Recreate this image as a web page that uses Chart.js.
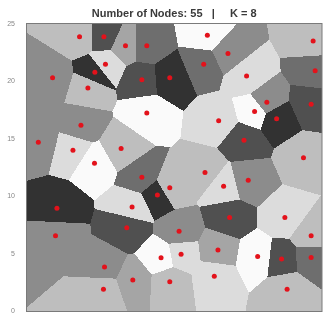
<!DOCTYPE html>
<html>
<head>
<meta charset="utf-8">
<script src="https://cdn.jsdelivr.net/npm/chart.js@4.4.1/dist/chart.umd.min.js"></script>
<style>
  html, body { margin: 0; padding: 0; background: #fff; }
  #wrap { width: 324px; height: 323px; }
</style>
</head>
<body>
<div id="wrap"><canvas id="voronoi"></canvas></div>
<script>
  // node positions (0..25 square) and the class (0..7) of each node's cell
  const nodeX = [4.46, 6.53, 8.36, 10.17, 15.31, 24.29, 6.66, 17.06, 15.0, 5.76,
    2.17, 9.75, 12.12, 18.64, 24.46, 5.17, 20.36, 24.12, 10.17, 19.32,
    16.27, 21.19, 4.58, 0.96, 18.42, 3.90, 7.99, 23.47, 5.73, 15.11,
    9.75, 18.78, 12.12, 16.69, 11.07, 2.54, 8.92, 17.20, 21.89, 8.47,
    2.42, 12.91, 24.12, 16.21, 13.08, 11.38, 19.58, 21.61, 24.12, 6.58,
    8.98, 12.12, 15.90, 6.49, 22.08];
  const nodeY = [23.90, 23.90, 23.10, 23.10, 24.01, 23.53, 21.49, 22.42, 21.49, 20.79,
    20.31, 20.14, 20.31, 20.47, 20.93, 19.43, 18.19, 18.02, 17.25, 17.37,
    16.58, 16.75, 16.19, 14.71, 14.88, 14.01, 14.15, 13.36, 12.88, 12.06,
    11.66, 11.38, 10.73, 10.87, 10.11, 8.95, 9.07, 8.14, 8.14, 7.25,
    6.55, 6.95, 6.55, 5.31, 4.94, 4.63, 4.75, 4.52, 4.66, 3.84,
    2.71, 2.54, 3.02, 1.89, 1.89];
  const nodeClass = [5, 1, 4, 2, 7, 5, 6, 3, 2, 0,
    3, 1, 0, 6, 2, 5, 3, 1, 7, 7,
    6, 0, 3, 3, 1, 6, 5, 5, 7, 5,
    2, 3, 5, 6, 0, 0, 6, 1, 6, 1,
    3, 3, 5, 4, 6, 7, 7, 1, 2, 3,
    4, 5, 6, 5, 5];
  const yTicks = [0, 5, 10, 15, 20, 25];

  const grays = [50, 80, 110, 140, 165, 190, 220, 250];

  const points = nodeX.map((x, i) => ({ x: x, y: nodeY[i] }));

  // paint each pixel with the class of its nearest node
  const cellPlugin = {
    id: 'cells',
    beforeDatasetsDraw(chart) {
      const area = chart.chartArea;
      const xs = chart.scales.x;
      const ys = chart.scales.y;
      const w = Math.round(area.right - area.left);
      const h = Math.round(area.bottom - area.top);
      const off = document.createElement('canvas');
      off.width = w;
      off.height = h;
      const octx = off.getContext('2d');
      const img = octx.createImageData(w, h);
      for (let j = 0; j < h; j++) {
        const vy = ys.getValueForPixel(area.top + j + 0.5);
        for (let i = 0; i < w; i++) {
          const vx = xs.getValueForPixel(area.left + i + 0.5);
          let best = 0, bestD = Infinity;
          for (let k = 0; k < nodeX.length; k++) {
            const dx = nodeX[k] - vx, dy = nodeY[k] - vy;
            const d = dx * dx + dy * dy;
            if (d < bestD) { bestD = d; best = k; }
          }
          const g = grays[nodeClass[best]];
          const p = (j * w + i) * 4;
          img.data[p] = g; img.data[p + 1] = g; img.data[p + 2] = g; img.data[p + 3] = 255;
        }
      }
      octx.putImageData(img, 0, 0);
      chart.ctx.drawImage(off, area.left, area.top);
    },
    afterDatasetsDraw(chart) {
      const a = chart.chartArea;
      const ctx = chart.ctx;
      ctx.save();
      ctx.strokeStyle = '#7a7a7a';
      ctx.lineWidth = 1;
      ctx.strokeRect(a.left - 0.5, a.top - 0.5, a.right - a.left + 1, a.bottom - a.top + 1);
      ctx.restore();
    }
  };

  new Chart(document.getElementById('voronoi'), {
    type: 'scatter',
    data: {
      datasets: [{
        data: points,
        pointRadius: 2.5,
        pointBackgroundColor: '#e3121b',
        pointBorderWidth: 0,
        pointHoverRadius: 2.5
      }]
    },
    options: {
      responsive: true,
      maintainAspectRatio: false,
      animation: false,
      layout: { padding: { right: 2, bottom: 4 } },
      scales: {
        x: {
          min: 0, max: 25,
          grid: { display: false },
          border: { display: false },
          ticks: { display: false }
        },
        y: {
          min: 0, max: 25,
          afterFit: s => { s.width = 27; },
          afterBuildTicks: s => { s.ticks = yTicks.map(v => ({ value: v })); },
          grid: { display: false },
          border: { display: false },
          ticks: {
            padding: 4,
            color: '#888',
            font: { family: 'Liberation Sans', size: 7 }
          }
        }
      },
      plugins: {
        legend: { display: false },
        tooltip: { enabled: false },
        title: {
          display: true,
          fullSize: false,
          text: 'Number of Nodes: 55   |     K = 8',
          color: '#3a3a3a',
          font: { family: 'Liberation Sans', size: 11, weight: 'bold' },
          padding: { top: 7.4, bottom: 3.4 }
        }
      }
    },
    plugins: [cellPlugin]
  });
</script>
</body>
</html>
